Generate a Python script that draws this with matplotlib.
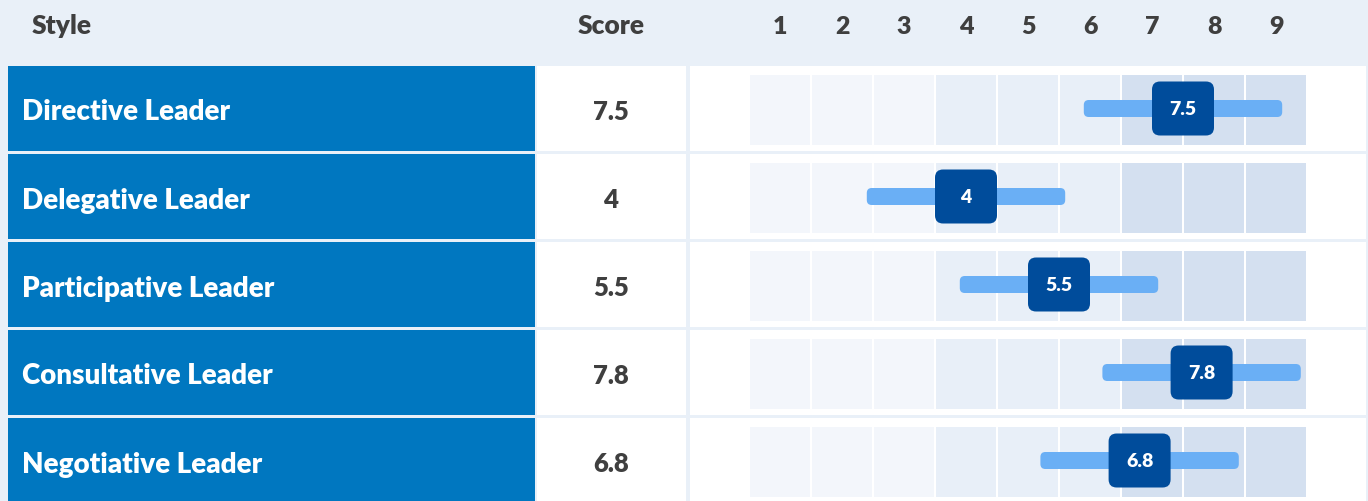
import matplotlib.pyplot as plt
from matplotlib.patches import FancyBboxPatch, Rectangle

# data
styles = ["Directive Leader", "Delegative Leader", "Participative Leader",
          "Consultative Leader", "Negotiative Leader"]
scores = [7.5, 4, 5.5, 7.8, 6.8]
score_labels = ["7.5", "4", "5.5", "7.8", "6.8"]
range_low = [5.9, 2.4, 3.9, 6.2, 5.2]
range_high = [9.1, 5.6, 7.1, 9.4, 8.4]
scale = [1, 2, 3, 4, 5, 6, 7, 8, 9]
band_colors = ["#F3F6FB"] * 3 + ["#E8EFF8"] * 3 + ["#D4E0F0"] * 3

BG = "#E9F0F8"
BLUE = "#0077C0"
DARK = "#004C9B"
LIGHT = "#6AAFF5"
TXT = "#3F3F3F"
FONT = "Lato"
WT = "heavy"

W, H = 1368, 502
PITCH = 88.0          # pixels per row
ROW_C0 = 109.5        # pixel centre of first row
PX = 62.0             # pixels per score unit
half = 42.5 / PITCH

fig = plt.figure(figsize=(W / 100, H / 100), dpi=100)
fig.patch.set_facecolor(BG)

y_top = -ROW_C0 / PITCH
y_bot = (H - ROW_C0) / PITCH

# table layer in pixel x, row-index y
bg = fig.add_axes([0, 0, 1, 1])
bg.set_xlim(0, W)
bg.set_ylim(y_bot, y_top)
bg.axis("off")

# chart layer in score units
ax = fig.add_axes([690 / W, 0, (1366 - 690) / W, 1])
ax.set_xlim(1 - 90 / PX, 1 + 586 / PX)
ax.set_ylim(y_bot, y_top)
ax.axis("off")

# baselines, as offsets in row units
hy = (33.5 - ROW_C0) / PITCH
lab_off = 11.0 / PITCH
box_off = 5.5 / PITCH

bg.text(32, hy, "Style", ha="left", va="baseline", fontsize=19,
        fontweight=WT, color=TXT, family=FONT)
bg.text(611, hy, "Score", ha="center", va="baseline", fontsize=19,
        fontweight=WT, color=TXT, family=FONT)
for v in scale:
    ax.text(v, hy, str(v), ha="center", va="baseline", fontsize=18,
            fontweight=WT, color=TXT, family=FONT)

asp = PX / PITCH
for i, (name, s, lab, lo, hi) in enumerate(zip(styles, scores, score_labels,
                                                range_low, range_high)):
    bg.add_patch(Rectangle((8, i - half), 527, 2 * half, color=BLUE, lw=0))
    bg.add_patch(Rectangle((537, i - half), 149, 2 * half, color="white", lw=0))
    bg.text(22, i + lab_off, name, ha="left", va="baseline", fontsize=20,
            fontweight=WT, color="white", family=FONT)
    bg.text(611, i + lab_off, lab, ha="center", va="baseline", fontsize=18.5,
            fontweight=WT, color=TXT, family=FONT)

    ax.axhspan(i - half, i + half, color="white", lw=0)
    for v, c in zip(scale, band_colors):
        ax.add_patch(Rectangle((v - 0.484, i - 33.5 / PITCH), 0.968, 70 / PITCH,
                               color=c, lw=0))

    bh = 17 / PITCH
    ax.add_patch(FancyBboxPatch((lo, i - bh / 2), hi - lo, bh,
                                boxstyle="round,pad=0,rounding_size=0.08",
                                mutation_aspect=asp, fc=LIGHT, ec="none"))
    mh = 54 / PITCH
    ax.add_patch(FancyBboxPatch((s - 0.5, i - mh / 2), 1.0, mh,
                                boxstyle="round,pad=0,rounding_size=0.13",
                                mutation_aspect=asp, fc=DARK, ec="none"))
    ax.text(s, i + box_off, lab, ha="center", va="baseline", fontsize=14,
            fontweight=WT, color="white", family=FONT)

fig.savefig("out.png", dpi=100, facecolor=BG)
